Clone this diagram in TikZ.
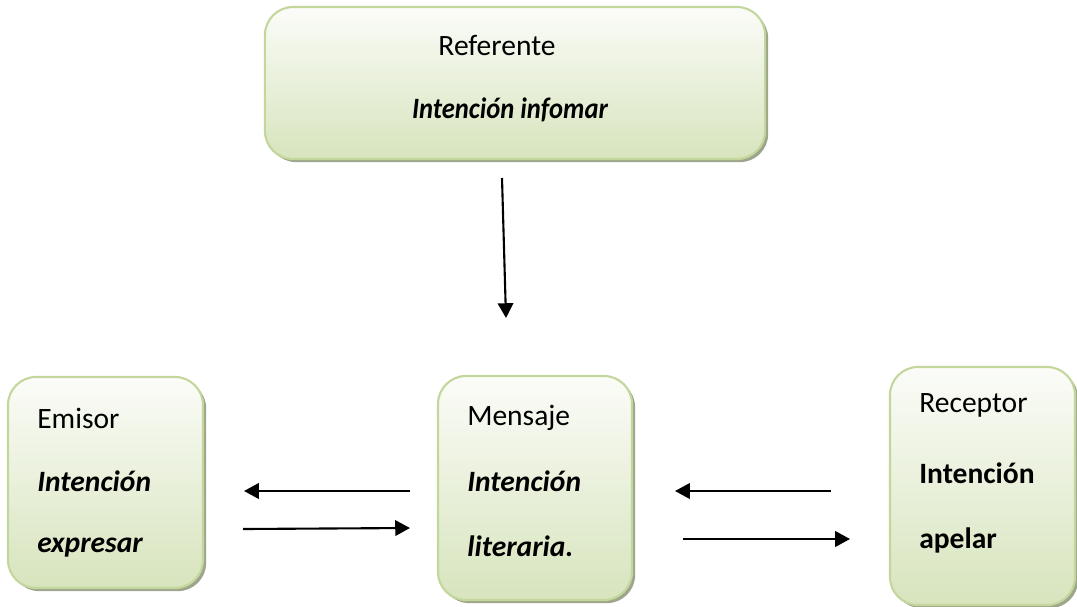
\documentclass[tikz,border=0pt]{standalone}
\usepackage{fontspec}
\setmainfont{Carlito}
\usetikzlibrary{arrows.meta,shadows}
\definecolor{boxline}{HTML}{C3D69B}
\definecolor{boxtop}{HTML}{FBFCF8}
\definecolor{boxbot}{HTML}{D7E4BD}
\definecolor{boxshadow}{HTML}{9DA68C}
\tikzset{
  caja/.style={draw=boxline, line width=1.5pt, rounded corners=20pt,
    top color=boxtop, bottom color=boxbot,
    drop shadow={shadow xshift=2.2pt, shadow yshift=-2.2pt, fill=boxshadow, opacity=1}},
  txt/.style={anchor=west, inner sep=0pt},
  flecha/.style={->, line width=1.5pt}
}
\begin{document}
\begin{tikzpicture}[x=0.025cm, y=-0.025cm, font=\fontsize{21}{24}\selectfont, >={Triangle[length=10.5pt,width=11pt]}]
\useasboundingbox (0,0) rectangle (1077,606);
% cajas
\node[caja, minimum width=12.5cm, minimum height=3.8cm] (ref) at (515,83) {};
\node[caja, minimum width=4.875cm, minimum height=5.275cm] (emi) at (105.5,482.5) {};
\node[caja, minimum width=4.85cm, minimum height=5.6cm] (men) at (535,488) {};
\node[caja, minimum width=4.625cm, minimum height=5.95cm] (rec) at (982.5,486) {};
% textos
\node (refa) at (497,45) {Referente};
\node (refb) at (510,110) {\scalebox{0.9}[1]{\bfseries\itshape Intención infomar}};
\node[txt] (emia) at (37,418) {Emisor};
\node[txt] (emib) at (37,481) {\bfseries\itshape Intención};
\node[txt] (emic) at (37,548) {\bfseries\itshape expresar};
\node[txt] (mena) at (467,418) {Mensaje};
\node[txt] (menb) at (467,481) {\bfseries\itshape Intención};
\node[txt] (menc) at (467,546) {\bfseries\itshape literaria.};
\node[txt] (reca) at (919,405) {Receptor};
\node[txt] (recb) at (919,473) {\bfseries Intención};
\node[txt] (recc) at (919,540) {\bfseries apelar};
% flechas
\path
(502,178)coordinate(r1) (506,318)coordinate(r2)
(410,491)coordinate(a1) (244,491)coordinate(a2)
(243,529)coordinate(b1) (410,528)coordinate(b2)
(831,491)coordinate(c1) (675,491)coordinate(c2)
(683,539)coordinate(d1) (850,539)coordinate(d2)
;
\draw[flecha] (r1)--(r2);
\draw[flecha] (a1)--(a2);
\draw[flecha] (b1)--(b2);
\draw[flecha] (c1)--(c2);
\draw[flecha] (d1)--(d2);
\end{tikzpicture}
\end{document}
